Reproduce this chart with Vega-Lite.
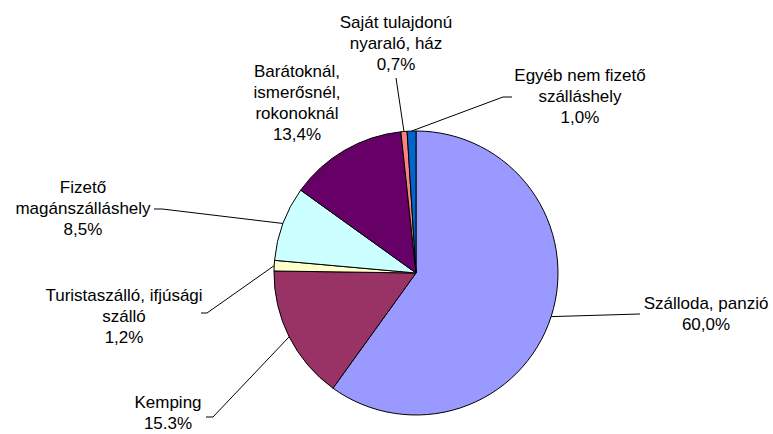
{
  "$schema": "https://vega.github.io/schema/vega-lite/v6.json",
  "width": 773,
  "height": 434,
  "padding": 0,
  "autosize": {"type": "none"},
  "background": "white",
  "config": {
    "view": {"stroke": null},
    "axis": {"disable": true},
    "text": {"font": "Liberation Sans", "fontSize": 17, "lineHeight": 21, "lineBreak": "\n", "align": "center", "baseline": "middle", "color": "black"},
    "rule": {"color": "black", "strokeWidth": 1}
  },
  "data": {
    "values": [
      {"idx": 1, "category": "Szálloda, panzió", "value": 60.0, "label": "Szálloda, panzió\n60,0%"},
      {"idx": 2, "category": "Kemping", "value": 15.3, "label": "Kemping\n15.3%"},
      {"idx": 3, "category": "Turistaszálló, ifjúsági szálló", "value": 1.2, "label": "Turistaszálló, ifjúsági\nszálló\n1,2%"},
      {"idx": 4, "category": "Fizető magánszálláshely", "value": 8.5, "label": "Fizető\nmagánszálláshely\n8,5%"},
      {"idx": 5, "category": "Barátoknál, ismerősnél, rokonoknál", "value": 13.4, "label": "Barátoknál,\nismerősnél,\nrokonoknál\n13,4%"},
      {"idx": 6, "category": "Saját tulajdonú nyaraló, ház", "value": 0.7, "label": "Saját tulajdonú\nnyaraló, ház\n0,7%"},
      {"idx": 7, "category": "Egyéb nem fizető szálláshely", "value": 1.0, "label": "Egyéb nem fizető\nszálláshely\n1,0%"}
    ]
  },
  "transform": [
    {"window": [{"op": "sum", "field": "value", "as": "cum"}], "sort": [{"field": "idx"}], "frame": [null, 0]},
    {"joinaggregate": [{"op": "sum", "field": "value", "as": "total"}]},
    {"calculate": "2 * PI * (datum.cum - datum.value / 2) / datum.total", "as": "mid"},
    {"calculate": "sin(datum.mid)", "as": "ax"},
    {"calculate": "cos(datum.mid)", "as": "ay"}
  ],
  "layer": [
    {
      "mark": {"type": "arc", "radius": 142, "stroke": "black", "strokeWidth": 1},
      "encoding": {
        "x": {"datum": 0, "type": "quantitative", "scale": {"domain": [-2.9296, 2.5141], "nice": false, "zero": false}, "axis": null},
        "y": {"datum": 0, "type": "quantitative", "scale": {"domain": [-1.1338, 1.9225], "nice": false, "zero": false}, "axis": null},
        "theta": {"field": "value", "type": "quantitative", "stack": true},
        "order": {"field": "idx", "type": "quantitative"},
        "color": {
          "field": "category", "type": "nominal", "legend": null,
          "scale": {
            "domain": ["Szálloda, panzió", "Kemping", "Turistaszálló, ifjúsági szálló", "Fizető magánszálláshely", "Barátoknál, ismerősnél, rokonoknál", "Saját tulajdonú nyaraló, ház", "Egyéb nem fizető szálláshely"],
            "range": ["#9999FF", "#993366", "#FFFFCC", "#CCFFFF", "#660066", "#FF8080", "#0066CC"]
          }
        }
      }
    },
    {
      "transform": [{"filter": "datum.idx === 1"}],
      "layer": [
        {"mark": "rule", "encoding": {"x": {"field": "ax", "type": "quantitative"}, "y": {"field": "ay", "type": "quantitative"}, "x2": {"datum": 1.5775}, "y2": {"datum": -0.2887}}},
        {"mark": "text", "encoding": {"x": {"datum": 2.0423}, "y": {"datum": -0.2183}, "text": {"field": "label"}}}
      ]
    },
    {
      "transform": [{"filter": "datum.idx === 2"}],
      "layer": [
        {"mark": "rule", "encoding": {"x": {"field": "ax", "type": "quantitative"}, "y": {"field": "ay", "type": "quantitative"}, "x2": {"datum": -1.4296}, "y2": {"datum": -1.0141}}},
        {"mark": "rule", "encoding": {"x": {"datum": -1.4789}, "x2": {"datum": -1.4296}, "y": {"datum": -1.0141}}},
        {"mark": "text", "encoding": {"x": {"datum": -1.7465}, "y": {"datum": -0.9155}, "text": {"field": "label"}}}
      ]
    },
    {
      "transform": [{"filter": "datum.idx === 3"}],
      "layer": [
        {"mark": "rule", "encoding": {"x": {"field": "ax", "type": "quantitative"}, "y": {"field": "ay", "type": "quantitative"}, "x2": {"datum": -1.4718}, "y2": {"datum": -0.2817}}},
        {"mark": "rule", "encoding": {"x": {"datum": -1.5141}, "x2": {"datum": -1.4718}, "y": {"datum": -0.2817}}},
        {"mark": "text", "encoding": {"x": {"datum": -2.0563}, "y": {"datum": -0.162}, "text": {"field": "label"}}}
      ]
    },
    {
      "transform": [{"filter": "datum.idx === 4"}],
      "layer": [
        {"mark": "rule", "encoding": {"x": {"field": "ax", "type": "quantitative"}, "y": {"field": "ay", "type": "quantitative"}, "x2": {"datum": -1.7887}, "y2": {"datum": 0.4507}}},
        {"mark": "rule", "encoding": {"x": {"datum": -1.8451}, "x2": {"datum": -1.7887}, "y": {"datum": 0.4507}}},
        {"mark": "text", "encoding": {"x": {"datum": -2.3451}, "y": {"datum": 0.5986}, "text": {"field": "label"}}}
      ]
    },
    {
      "transform": [{"filter": "datum.idx === 5"}],
      "layer": [
        {"mark": "text", "encoding": {"x": {"datum": -0.838}, "y": {"datum": 1.4155}, "text": {"field": "label"}}}
      ]
    },
    {
      "transform": [{"filter": "datum.idx === 6"}],
      "layer": [
        {"mark": "rule", "encoding": {"x": {"field": "ax", "type": "quantitative"}, "y": {"field": "ay", "type": "quantitative"}, "x2": {"datum": -0.1408}, "y2": {"datum": 1.3732}}},
        {"mark": "text", "encoding": {"x": {"datum": -0.1408}, "y": {"datum": 1.7606}, "text": {"field": "label"}}}
      ]
    },
    {
      "transform": [{"filter": "datum.idx === 7"}],
      "layer": [
        {"mark": "rule", "encoding": {"x": {"field": "ax", "type": "quantitative"}, "y": {"field": "ay", "type": "quantitative"}, "x2": {"datum": 0.6127}, "y2": {"datum": 1.2394}}},
        {"mark": "rule", "encoding": {"x": {"datum": 0.6127}, "x2": {"datum": 0.6761}, "y": {"datum": 1.2394}}},
        {"mark": "text", "encoding": {"x": {"datum": 1.1549}, "y": {"datum": 1.3873}, "text": {"field": "label"}}}
      ]
    }
  ]
}
